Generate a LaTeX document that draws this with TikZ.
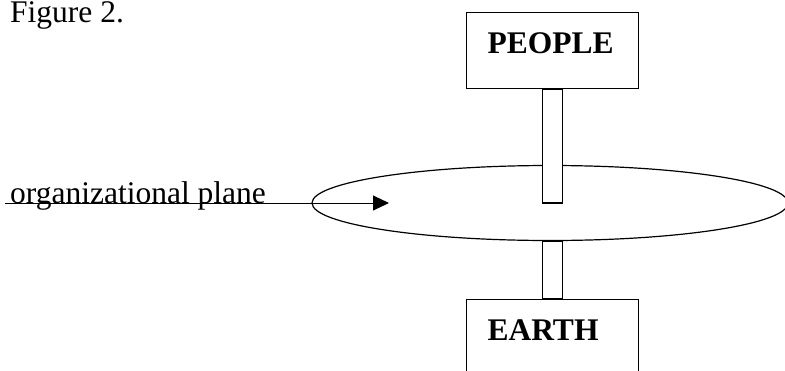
\documentclass[tikz,border=0pt]{standalone}
\usepackage{fontspec}
\setmainfont{Liberation Serif}
\usetikzlibrary{arrows.meta,shapes.geometric,calc}
\pgfdeclarelayer{front}
\pgfsetlayers{main,front}
\begin{document}
\begin{tikzpicture}[x=1pt,y=-1pt,
  labelbox/.style={draw,line width=1.2pt,rectangle,inner xsep=21pt,inner ysep=0pt,
    text width=130pt,align=left,text height=41pt,text depth=35pt,
    font=\fontsize{31.5}{36}\selectfont\bfseries,anchor=north west},
  stem/.style={draw,fill=white,line width=1.2pt},
  plane/.style={ellipse,draw,line width=1.2pt,minimum width=476pt,minimum height=75pt,inner sep=0pt},
  plaintext/.style={inner sep=0pt,anchor=base west,font=\fontsize{31.5}{36}\selectfont},
  pointer/.style={line width=1pt,-{Triangle[length=16pt,width=15pt]}}]
\useasboundingbox (0,0) rectangle (785,370);
\clip (0,0) rectangle (785,370);
\node[plaintext] (fig) at (10,22) {Figure 2.};
\node[plane] (plane) at (550,203) {};
\node[plaintext] (orglabel) at (10,203) {organizational plane};
\coordinate (a0) at (5,203);
\coordinate (a1) at (389,203);
\draw[pointer] (a0) -- (a1);
\begin{pgfonlayer}{front}
\node[labelbox] (people) at (466,12) {PEOPLE};
\node[labelbox] (earth) at (466,299) {EARTH};
\end{pgfonlayer}
\draw[stem] ($(people.south)+(-10,0)$) rectangle ($(people.south |- plane.center)+(10,0)$);
\draw[stem] ($(people.south |- plane.south)+(-10,0)$) rectangle ($(earth.north)+(10,0)$);
\end{tikzpicture}
\end{document}
